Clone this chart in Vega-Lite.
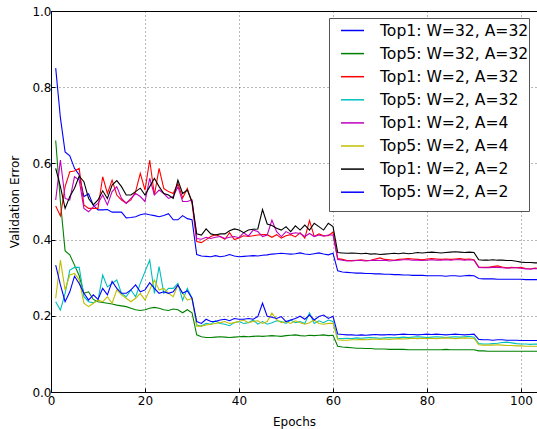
{
"$schema": "https://vega.github.io/schema/vega-lite/v6.json",
"width": 486, "height": 381,
"autosize": {"type": "none"},
"padding": {"left": 51, "top": 11, "right": 0, "bottom": 37},
"background": "white",
"config": {
  "font": "DejaVu Sans",
  "view": {"stroke": "black", "strokeWidth": 1},
  "axis": {"domain": false, "grid": true, "gridColor": "black", "gridDash": [1, 3], "gridWidth": 1, "gridOpacity": 0.55,
    "ticks": true, "tickColor": "black", "tickSize": -4, "tickWidth": 1,
    "labelFont": "DejaVu Sans", "labelFontSize": 12, "labelColor": "black",
    "titleFont": "DejaVu Sans", "titleFontSize": 12, "titleColor": "black", "titleFontWeight": "normal"}
},
"data": {"values": [
{"epoch":1,"a":0.85,"b":0.66,"c":0.488,"d":0.237,"e":0.504,"f":0.246,"g":0.587,"h":0.333},
{"epoch":2,"a":0.72,"b":0.5,"c":0.462,"d":0.215,"e":0.609,"f":0.346,"g":0.539,"h":0.281},
{"epoch":3,"a":0.63,"b":0.37,"c":0.539,"d":0.259,"e":0.508,"f":0.268,"g":0.482,"h":0.237},
{"epoch":4,"a":0.62,"b":0.36,"c":0.578,"d":0.32,"e":0.504,"f":0.307,"g":0.513,"h":0.263},
{"epoch":5,"a":0.587,"b":0.333,"c":0.58,"d":0.327,"e":0.565,"f":0.311,"g":0.535,"h":0.304},
{"epoch":6,"a":0.57,"b":0.305,"c":0.587,"d":0.327,"e":0.556,"f":0.294,"g":0.567,"h":0.285},
{"epoch":7,"a":0.513,"b":0.259,"c":0.491,"d":0.25,"e":0.482,"f":0.233,"g":0.552,"h":0.259},
{"epoch":8,"a":0.52,"b":0.263,"c":0.482,"d":0.237,"e":0.473,"f":0.224,"g":0.508,"h":0.241},
{"epoch":9,"a":0.49,"b":0.243,"c":0.482,"d":0.234,"e":0.486,"f":0.233,"g":0.491,"h":0.255},
{"epoch":10,"a":0.478,"b":0.237,"c":0.482,"d":0.241,"e":0.495,"f":0.241,"g":0.504,"h":0.243},
{"epoch":11,"a":0.478,"b":0.235,"c":0.565,"d":0.307,"e":0.517,"f":0.237,"g":0.528,"h":0.272},
{"epoch":12,"a":0.479,"b":0.233,"c":0.521,"d":0.276,"e":0.491,"f":0.25,"g":0.508,"h":0.255},
{"epoch":13,"a":0.472,"b":0.231,"c":0.556,"d":0.285,"e":0.526,"f":0.233,"g":0.543,"h":0.29},
{"epoch":14,"a":0.472,"b":0.228,"c":0.517,"d":0.294,"e":0.539,"f":0.268,"g":0.555,"h":0.272},
{"epoch":15,"a":0.472,"b":0.226,"c":0.504,"d":0.259,"e":0.508,"f":0.255,"g":0.539,"h":0.259},
{"epoch":16,"a":0.457,"b":0.224,"c":0.496,"d":0.25,"e":0.495,"f":0.246,"g":0.517,"h":0.259},
{"epoch":17,"a":0.458,"b":0.22,"c":0.504,"d":0.268,"e":0.508,"f":0.237,"g":0.517,"h":0.268},
{"epoch":18,"a":0.46,"b":0.216,"c":0.526,"d":0.25,"e":0.521,"f":0.246,"g":0.526,"h":0.281},
{"epoch":19,"a":0.465,"b":0.214,"c":0.574,"d":0.285,"e":0.513,"f":0.259,"g":0.535,"h":0.263},
{"epoch":20,"a":0.468,"b":0.216,"c":0.53,"d":0.316,"e":0.5,"f":0.241,"g":0.517,"h":0.268},
{"epoch":21,"a":0.465,"b":0.22,"c":0.609,"d":0.346,"e":0.561,"f":0.268,"g":0.539,"h":0.287},
{"epoch":22,"a":0.463,"b":0.222,"c":0.517,"d":0.259,"e":0.517,"f":0.294,"g":0.561,"h":0.272},
{"epoch":23,"a":0.46,"b":0.22,"c":0.587,"d":0.329,"e":0.53,"f":0.268,"g":0.539,"h":0.259},
{"epoch":24,"a":0.463,"b":0.216,"c":0.534,"d":0.259,"e":0.521,"f":0.272,"g":0.521,"h":0.263},
{"epoch":25,"a":0.468,"b":0.214,"c":0.526,"d":0.272,"e":0.508,"f":0.259,"g":0.517,"h":0.259},
{"epoch":26,"a":0.452,"b":0.218,"c":0.521,"d":0.272,"e":0.513,"f":0.25,"g":0.508,"h":0.263},
{"epoch":27,"a":0.452,"b":0.216,"c":0.547,"d":0.285,"e":0.539,"f":0.281,"g":0.556,"h":0.281},
{"epoch":28,"a":0.463,"b":0.208,"c":0.509,"d":0.241,"e":0.5,"f":0.259,"g":0.521,"h":0.259},
{"epoch":29,"a":0.455,"b":0.216,"c":0.534,"d":0.272,"e":0.5,"f":0.241,"g":0.53,"h":0.266},
{"epoch":30,"a":0.452,"b":0.208,"c":0.496,"d":0.246,"e":0.504,"f":0.246,"g":0.5,"h":0.246},
{"epoch":31,"a":0.361,"b":0.15,"c":0.395,"d":0.176,"e":0.403,"f":0.173,"g":0.415,"h":0.185},
{"epoch":32,"a":0.357,"b":0.145,"c":0.392,"d":0.173,"e":0.401,"f":0.173,"g":0.412,"h":0.18},
{"epoch":33,"a":0.356,"b":0.143,"c":0.4,"d":0.18,"e":0.406,"f":0.176,"g":0.428,"h":0.191},
{"epoch":34,"a":0.355,"b":0.143,"c":0.408,"d":0.178,"e":0.403,"f":0.178,"g":0.415,"h":0.185},
{"epoch":35,"a":0.358,"b":0.144,"c":0.413,"d":0.187,"e":0.406,"f":0.18,"g":0.412,"h":0.185},
{"epoch":36,"a":0.355,"b":0.145,"c":0.408,"d":0.18,"e":0.408,"f":0.182,"g":0.415,"h":0.189},
{"epoch":37,"a":0.357,"b":0.144,"c":0.401,"d":0.178,"e":0.403,"f":0.185,"g":0.415,"h":0.191},
{"epoch":38,"a":0.361,"b":0.143,"c":0.418,"d":0.174,"e":0.406,"f":0.18,"g":0.423,"h":0.187},
{"epoch":39,"a":0.357,"b":0.144,"c":0.4,"d":0.182,"e":0.408,"f":0.182,"g":0.428,"h":0.193},
{"epoch":40,"a":0.355,"b":0.145,"c":0.404,"d":0.185,"e":0.405,"f":0.185,"g":0.425,"h":0.191},
{"epoch":41,"a":0.356,"b":0.146,"c":0.41,"d":0.18,"e":0.418,"f":0.189,"g":0.418,"h":0.191},
{"epoch":42,"a":0.357,"b":0.145,"c":0.408,"d":0.182,"e":0.409,"f":0.182,"g":0.425,"h":0.193},
{"epoch":43,"a":0.358,"b":0.146,"c":0.41,"d":0.189,"e":0.425,"f":0.185,"g":0.427,"h":0.191},
{"epoch":44,"a":0.357,"b":0.147,"c":0.412,"d":0.178,"e":0.421,"f":0.187,"g":0.428,"h":0.198},
{"epoch":45,"a":0.359,"b":0.146,"c":0.413,"d":0.185,"e":0.408,"f":0.18,"g":0.479,"h":0.233},
{"epoch":46,"a":0.36,"b":0.147,"c":0.413,"d":0.178,"e":0.412,"f":0.185,"g":0.441,"h":0.199},
{"epoch":47,"a":0.362,"b":0.148,"c":0.406,"d":0.182,"e":0.451,"f":0.207,"g":0.437,"h":0.196},
{"epoch":48,"a":0.363,"b":0.147,"c":0.413,"d":0.187,"e":0.421,"f":0.19,"g":0.43,"h":0.193},
{"epoch":49,"a":0.364,"b":0.146,"c":0.404,"d":0.185,"e":0.408,"f":0.182,"g":0.425,"h":0.198},
{"epoch":50,"a":0.363,"b":0.148,"c":0.41,"d":0.18,"e":0.421,"f":0.185,"g":0.434,"h":0.185},
{"epoch":51,"a":0.362,"b":0.149,"c":0.413,"d":0.189,"e":0.415,"f":0.18,"g":0.421,"h":0.189},
{"epoch":52,"a":0.363,"b":0.15,"c":0.407,"d":0.182,"e":0.418,"f":0.187,"g":0.436,"h":0.193},
{"epoch":53,"a":0.365,"b":0.148,"c":0.418,"d":0.185,"e":0.416,"f":0.182,"g":0.425,"h":0.199},
{"epoch":54,"a":0.362,"b":0.147,"c":0.404,"d":0.18,"e":0.408,"f":0.178,"g":0.438,"h":0.191},
{"epoch":55,"a":0.361,"b":0.149,"c":0.45,"d":0.208,"e":0.416,"f":0.182,"g":0.425,"h":0.202},
{"epoch":56,"a":0.363,"b":0.148,"c":0.408,"d":0.18,"e":0.408,"f":0.189,"g":0.443,"h":0.189},
{"epoch":57,"a":0.365,"b":0.149,"c":0.415,"d":0.187,"e":0.412,"f":0.18,"g":0.434,"h":0.198},
{"epoch":58,"a":0.362,"b":0.15,"c":0.41,"d":0.182,"e":0.409,"f":0.178,"g":0.425,"h":0.202},
{"epoch":59,"a":0.36,"b":0.148,"c":0.41,"d":0.189,"e":0.412,"f":0.18,"g":0.443,"h":0.193},
{"epoch":60,"a":0.364,"b":0.149,"c":0.42,"d":0.185,"e":0.412,"f":0.18,"g":0.434,"h":0.199},
{"epoch":61,"a":0.318,"b":0.12,"c":0.35,"d":0.141,"e":0.348,"f":0.137,"g":0.366,"h":0.152},
{"epoch":62,"a":0.315,"b":0.118,"c":0.348,"d":0.14,"e":0.346,"f":0.136,"g":0.365,"h":0.151},
{"epoch":63,"a":0.314,"b":0.117,"c":0.345,"d":0.141,"e":0.344,"f":0.136,"g":0.364,"h":0.15},
{"epoch":64,"a":0.313,"b":0.116,"c":0.345,"d":0.14,"e":0.344,"f":0.137,"g":0.365,"h":0.15},
{"epoch":65,"a":0.312,"b":0.115,"c":0.346,"d":0.142,"e":0.345,"f":0.137,"g":0.364,"h":0.149},
{"epoch":66,"a":0.312,"b":0.115,"c":0.347,"d":0.141,"e":0.345,"f":0.138,"g":0.363,"h":0.15},
{"epoch":67,"a":0.311,"b":0.114,"c":0.345,"d":0.142,"e":0.344,"f":0.137,"g":0.364,"h":0.149},
{"epoch":68,"a":0.311,"b":0.114,"c":0.346,"d":0.143,"e":0.345,"f":0.138,"g":0.362,"h":0.15},
{"epoch":69,"a":0.31,"b":0.113,"c":0.349,"d":0.142,"e":0.346,"f":0.139,"g":0.363,"h":0.151},
{"epoch":70,"a":0.31,"b":0.113,"c":0.352,"d":0.141,"e":0.345,"f":0.138,"g":0.361,"h":0.15},
{"epoch":71,"a":0.309,"b":0.113,"c":0.348,"d":0.142,"e":0.346,"f":0.139,"g":0.362,"h":0.15},
{"epoch":72,"a":0.309,"b":0.112,"c":0.347,"d":0.143,"e":0.344,"f":0.138,"g":0.363,"h":0.151},
{"epoch":73,"a":0.308,"b":0.112,"c":0.346,"d":0.142,"e":0.345,"f":0.139,"g":0.364,"h":0.15},
{"epoch":74,"a":0.308,"b":0.112,"c":0.348,"d":0.143,"e":0.346,"f":0.14,"g":0.363,"h":0.151},
{"epoch":75,"a":0.307,"b":0.112,"c":0.349,"d":0.144,"e":0.347,"f":0.139,"g":0.365,"h":0.152},
{"epoch":76,"a":0.307,"b":0.111,"c":0.35,"d":0.143,"e":0.347,"f":0.14,"g":0.363,"h":0.151},
{"epoch":77,"a":0.306,"b":0.111,"c":0.349,"d":0.144,"e":0.346,"f":0.141,"g":0.364,"h":0.151},
{"epoch":78,"a":0.306,"b":0.111,"c":0.348,"d":0.145,"e":0.346,"f":0.14,"g":0.366,"h":0.15},
{"epoch":79,"a":0.306,"b":0.111,"c":0.347,"d":0.144,"e":0.345,"f":0.141,"g":0.365,"h":0.151},
{"epoch":80,"a":0.305,"b":0.111,"c":0.349,"d":0.143,"e":0.346,"f":0.14,"g":0.366,"h":0.152},
{"epoch":81,"a":0.305,"b":0.111,"c":0.35,"d":0.144,"e":0.347,"f":0.141,"g":0.367,"h":0.151},
{"epoch":82,"a":0.305,"b":0.111,"c":0.349,"d":0.145,"e":0.346,"f":0.14,"g":0.366,"h":0.152},
{"epoch":83,"a":0.305,"b":0.111,"c":0.348,"d":0.144,"e":0.346,"f":0.141,"g":0.365,"h":0.151},
{"epoch":84,"a":0.304,"b":0.112,"c":0.349,"d":0.143,"e":0.347,"f":0.142,"g":0.366,"h":0.15},
{"epoch":85,"a":0.305,"b":0.111,"c":0.348,"d":0.144,"e":0.346,"f":0.141,"g":0.367,"h":0.151},
{"epoch":86,"a":0.305,"b":0.111,"c":0.349,"d":0.145,"e":0.347,"f":0.14,"g":0.368,"h":0.152},
{"epoch":87,"a":0.304,"b":0.111,"c":0.35,"d":0.144,"e":0.347,"f":0.141,"g":0.367,"h":0.151},
{"epoch":88,"a":0.305,"b":0.111,"c":0.348,"d":0.145,"e":0.346,"f":0.142,"g":0.366,"h":0.15},
{"epoch":89,"a":0.306,"b":0.111,"c":0.349,"d":0.146,"e":0.347,"f":0.141,"g":0.367,"h":0.151},
{"epoch":90,"a":0.305,"b":0.111,"c":0.347,"d":0.144,"e":0.346,"f":0.141,"g":0.366,"h":0.152},
{"epoch":91,"a":0.298,"b":0.108,"c":0.328,"d":0.127,"e":0.327,"f":0.124,"g":0.347,"h":0.138},
{"epoch":92,"a":0.297,"b":0.108,"c":0.327,"d":0.126,"e":0.326,"f":0.123,"g":0.346,"h":0.137},
{"epoch":93,"a":0.297,"b":0.107,"c":0.327,"d":0.126,"e":0.326,"f":0.123,"g":0.346,"h":0.137},
{"epoch":94,"a":0.297,"b":0.107,"c":0.329,"d":0.127,"e":0.327,"f":0.123,"g":0.347,"h":0.136},
{"epoch":95,"a":0.296,"b":0.107,"c":0.331,"d":0.128,"e":0.327,"f":0.124,"g":0.346,"h":0.137},
{"epoch":96,"a":0.296,"b":0.107,"c":0.328,"d":0.13,"e":0.326,"f":0.123,"g":0.346,"h":0.137},
{"epoch":97,"a":0.296,"b":0.107,"c":0.326,"d":0.131,"e":0.325,"f":0.122,"g":0.345,"h":0.136},
{"epoch":98,"a":0.296,"b":0.107,"c":0.327,"d":0.129,"e":0.326,"f":0.122,"g":0.345,"h":0.136},
{"epoch":99,"a":0.296,"b":0.107,"c":0.326,"d":0.127,"e":0.326,"f":0.121,"g":0.343,"h":0.136},
{"epoch":100,"a":0.296,"b":0.107,"c":0.327,"d":0.126,"e":0.325,"f":0.121,"g":0.341,"h":0.135},
{"epoch":101,"a":0.295,"b":0.107,"c":0.324,"d":0.126,"e":0.323,"f":0.12,"g":0.34,"h":0.135},
{"epoch":102,"a":0.295,"b":0.107,"c":0.323,"d":0.125,"e":0.323,"f":0.12,"g":0.34,"h":0.135},
{"epoch":103,"a":0.295,"b":0.107,"c":0.325,"d":0.126,"e":0.324,"f":0.12,"g":0.339,"h":0.135},
{"epoch":104,"a":0.295,"b":0.107,"c":0.324,"d":0.125,"e":0.323,"f":0.12,"g":0.339,"h":0.135}
]},
"transform": [{"fold": ["a", "b", "c", "d", "e", "f", "g", "h"], "as": ["series", "error"]}],
"mark": {"type": "line", "strokeWidth": 1.1, "clip": true},
"encoding": {
  "x": {"field": "epoch", "type": "quantitative",
    "scale": {"domain": [0, 103.4], "nice": false, "zero": false},
    "axis": {"values": [0, 20, 40, 60, 80, 100], "title": "Epochs", "labelPadding": 7, "titleY": 33, "titleBaseline": "alphabetic", "labelFlush": false}},
  "y": {"field": "error", "type": "quantitative",
    "scale": {"domain": [0, 1], "nice": false},
    "axis": {"values": [0, 0.2, 0.4, 0.6, 0.8, 1.0], "format": ".1f", "title": "Validation Error", "labelPadding": 4, "titleX": -30, "titleY": 190.5}},
  "color": {"field": "series", "type": "nominal",
    "scale": {"domain": ["a", "b", "c", "d", "e", "f", "g", "h"],
      "range": ["#0000ff", "#008000", "#ff0000", "#00bfbf", "#bf00bf", "#bfbf00", "#000000", "#0000ff"]},
    "legend": {"orient": "none", "legendX": 278, "legendY": 7, "title": " ", "titleOrient": "bottom", "titleFontSize": 8, "titlePadding": 2,
      "labelExpr": "datum.label == 'a' ? 'Top1: W=32, A=32' : datum.label == 'b' ? 'Top5: W=32, A=32' : datum.label == 'c' ? 'Top1: W=2, A=32' : datum.label == 'd' ? 'Top5: W=2, A=32' : datum.label == 'e' ? 'Top1: W=2, A=4' : datum.label == 'f' ? 'Top5: W=2, A=4' : datum.label == 'g' ? 'Top1: W=2, A=2' : 'Top5: W=2, A=2'",
      "symbolType": "stroke", "symbolSize": 529, "symbolStrokeWidth": 1.5, "symbolOffset": 11,
      "labelFont": "DejaVu Sans", "labelFontSize": 15.6, "labelColor": "black", "labelLimit": 300, "labelOffset": 15,
      "fillColor": "white", "strokeColor": "#555", "padding": 0, "rowPadding": 1.1}}
}
}
